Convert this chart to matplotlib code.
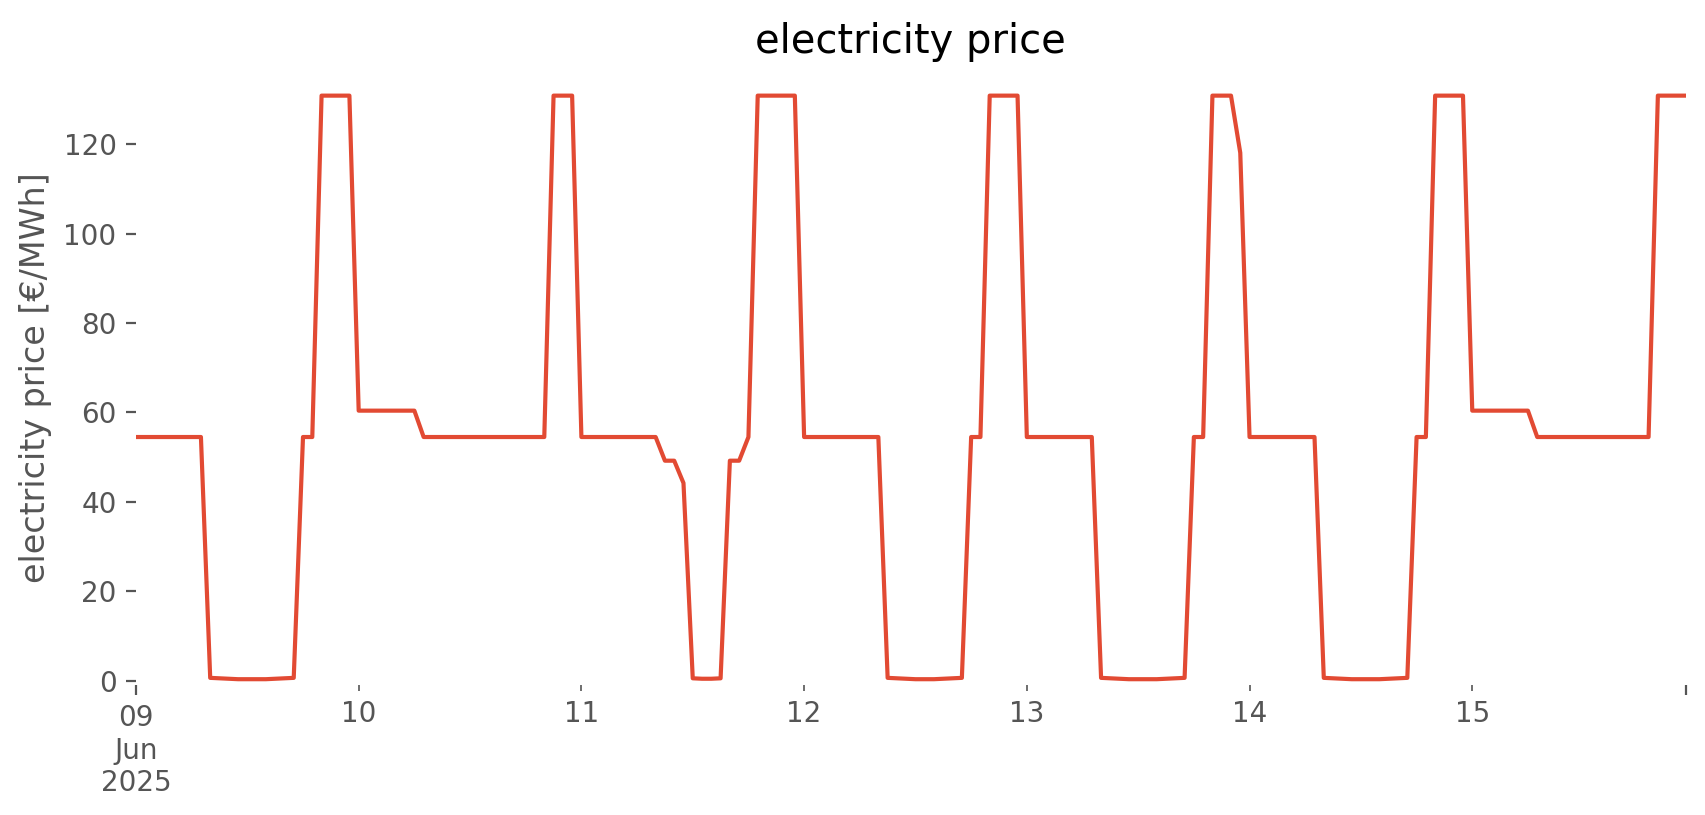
import matplotlib

matplotlib.use("Agg")
import matplotlib.pyplot as plt
import pandas as pd

# Hourly day-ahead prices [EUR/MWh], one list per day (00:00 .. 23:00).
day_09 = [54.5, 54.5, 54.5, 54.5, 54.5, 54.5, 54.5, 54.5,
          0.6, 0.5, 0.4, 0.3, 0.3, 0.3, 0.3, 0.4, 0.5, 0.6,
          54.5, 54.5, 130.9, 130.9, 130.9, 130.9]
day_10 = [60.4, 60.4, 60.4, 60.4, 60.4, 60.4, 60.4,
          54.5, 54.5, 54.5, 54.5, 54.5, 54.5, 54.5, 54.5, 54.5, 54.5, 54.5, 54.5, 54.5, 54.5,
          130.9, 130.9, 130.9]
day_11 = [54.5, 54.5, 54.5, 54.5, 54.5, 54.5, 54.5, 54.5, 54.5,
          49.2, 49.2, 44.2, 0.5, 0.4, 0.4, 0.5, 49.2, 49.2, 54.5,
          130.9, 130.9, 130.9, 130.9, 130.9]
day_12 = [54.5, 54.5, 54.5, 54.5, 54.5, 54.5, 54.5, 54.5, 54.5,
          0.6, 0.5, 0.4, 0.3, 0.3, 0.3, 0.4, 0.5, 0.6,
          54.5, 54.5, 130.9, 130.9, 130.9, 130.9]
day_13 = [54.5, 54.5, 54.5, 54.5, 54.5, 54.5, 54.5, 54.5,
          0.6, 0.5, 0.4, 0.3, 0.3, 0.3, 0.3, 0.4, 0.5, 0.6,
          54.5, 54.5, 130.9, 130.9, 130.9, 118.1]
day_14 = [54.5, 54.5, 54.5, 54.5, 54.5, 54.5, 54.5, 54.5,
          0.6, 0.5, 0.4, 0.3, 0.3, 0.3, 0.3, 0.4, 0.5, 0.6,
          54.5, 54.5, 130.9, 130.9, 130.9, 130.9]
day_15 = [60.4, 60.4, 60.4, 60.4, 60.4, 60.4, 60.4,
          54.5, 54.5, 54.5, 54.5, 54.5, 54.5, 54.5, 54.5, 54.5, 54.5, 54.5, 54.5, 54.5,
          130.9, 130.9, 130.9, 130.9]

day_labels = ["10", "11", "12", "13", "14", "15"]
first_label = "09\nJun\n2025"

price = day_09 + day_10 + day_11 + day_12 + day_13 + day_14 + day_15
times = pd.date_range("2025-06-09 00:00", periods=len(price), freq="h")

plt.style.use("ggplot")
fig = plt.figure(figsize=(8.53, 4.075), dpi=200)
ax = fig.add_axes([0.0797, 0.1595, 0.9084, 0.7555])
ax.set_facecolor("white")
ax.grid(False)
for spine in ax.spines.values():
    spine.set_visible(False)

ax.plot(times, price, color="#E24A33", linewidth=1.5)

ax.set_xlim(times[0], times[-1])
ax.set_ylim(-1.0, 136.8)
ax.set_yticks([0, 20, 40, 60, 80, 100, 120])

days = pd.date_range("2025-06-10", periods=len(day_labels), freq="D")
ax.set_xticks([times[0], times[-1]])
ax.set_xticklabels([first_label, ""])
ax.set_xticks(days, minor=True)
ax.set_xticklabels(day_labels, minor=True)
ax.tick_params(axis="x", which="both", labelsize=10, colors="#555555")
ax.tick_params(axis="y", labelsize=10, colors="#555555")

ax.set_ylabel("electricity price [€/MWh]", fontsize=12, color="#555555")
ax.set_title("electricity price", fontsize=14.4, color="black", pad=6)

fig.savefig("out.png", dpi=200, facecolor="white")
